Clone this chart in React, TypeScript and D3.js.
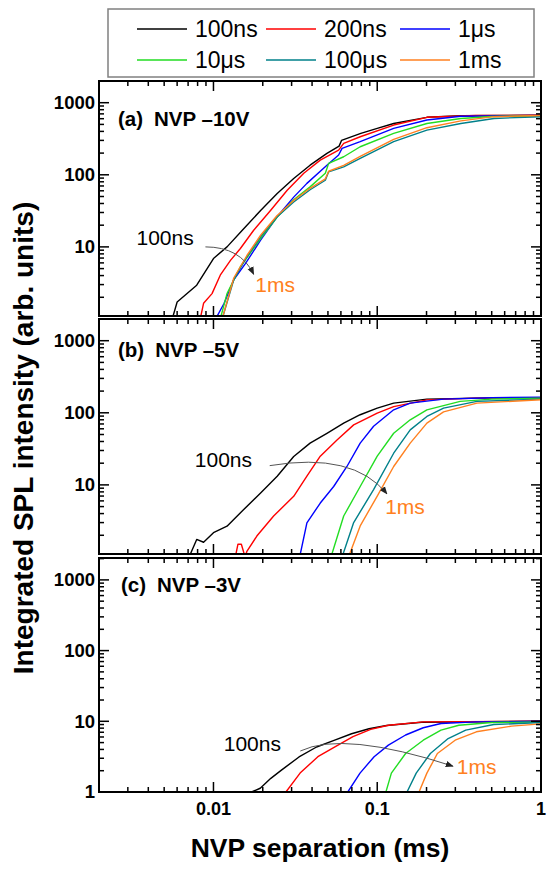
import * as d3 from "d3";

type Pt = [number, number];

const seriesNames = ["100ns", "200ns", "1μs", "10μs", "100μs", "1ms"];
const seriesColors = ["#000000", "#ff0000", "#0000ff", "#22dd22", "#00808a", "#ff8020"];

// (a) NVP -10V
const a100ns: Pt[] = [[0.0056, 1.0], [0.006, 1.72], [0.0079, 2.94], [0.01, 6.9], [0.0121, 10], [0.015, 17], [0.0194, 32], [0.0245, 55], [0.0309, 89], [0.0389, 136], [0.0493, 198], [0.0585, 250], [0.0605, 300], [0.0794, 376], [0.1, 441], [0.126, 515], [0.201, 627], [0.324, 660], [1, 670]];
const a200ns: Pt[] = [[0.0083, 1.0], [0.0087, 1.65], [0.0098, 2.25], [0.011, 4.05], [0.0127, 6.5], [0.0146, 9.5], [0.0176, 17], [0.0223, 32], [0.0282, 61], [0.0356, 105], [0.0449, 160], [0.0581, 220], [0.0624, 273], [0.0787, 337], [0.126, 490], [0.201, 627], [0.4, 665], [1, 670]];
const a1us: Pt[] = [[0.0103, 1.0], [0.0116, 1.64], [0.0133, 3.5], [0.0157, 5.9], [0.0194, 12.4], [0.0244, 26], [0.0309, 49], [0.0372, 76], [0.0493, 136], [0.0581, 188], [0.061, 233], [0.0787, 288], [0.126, 441], [0.201, 575], [0.324, 650], [1, 665]];
const a10us: Pt[] = [[0.011, 1.0], [0.0121, 2.25], [0.0146, 5.3], [0.0194, 13], [0.0245, 26], [0.0309, 45], [0.0389, 68], [0.0482, 105], [0.0505, 144], [0.0624, 178], [0.0787, 245], [0.126, 376], [0.201, 515], [0.324, 605], [0.5, 645], [1, 660]];
const a100us: Pt[] = [[0.0113, 1.0], [0.0133, 3.5], [0.016, 7.3], [0.0194, 13.8], [0.0244, 26], [0.0309, 42], [0.0389, 62], [0.0482, 84], [0.0505, 110], [0.0624, 129], [0.0787, 169], [0.126, 288], [0.201, 417], [0.324, 515], [0.516, 605], [1, 640]];
const a1ms: Pt[] = [[0.0113, 1.0], [0.0133, 3.7], [0.016, 7.6], [0.0194, 14.5], [0.0244, 27], [0.0309, 44], [0.0389, 65], [0.0482, 88], [0.0505, 112], [0.0624, 135], [0.0787, 180], [0.126, 310], [0.201, 450], [0.324, 560], [0.516, 640], [1, 665]];

// (b) NVP -5V
const b100ns: Pt[] = [[0.0071, 1.0], [0.0079, 1.75], [0.0087, 1.6], [0.01, 2.17], [0.0121, 2.67], [0.0153, 4.55], [0.0194, 7.7], [0.0245, 13.2], [0.0309, 24.8], [0.0389, 38], [0.0493, 52], [0.0624, 72], [0.0787, 94], [0.1, 116], [0.126, 136], [0.201, 155], [0.4, 160], [1, 162]];
const b200ns: Pt[] = [[0.0136, 1.0], [0.0141, 1.5], [0.0148, 1.5], [0.0156, 1.0], [0.016, 1.2], [0.0184, 1.95], [0.0233, 3.7], [0.0309, 6.95], [0.0372, 13.2], [0.0449, 25], [0.0568, 42], [0.0718, 68], [0.1, 99], [0.126, 122], [0.201, 151], [0.4, 160], [1, 162]];
const b1us: Pt[] = [[0.0336, 1.0], [0.0372, 2.98], [0.0449, 5.6], [0.0542, 9.5], [0.0653, 18], [0.0787, 38], [0.095, 65], [0.126, 110], [0.159, 136], [0.254, 155], [0.5, 162], [1, 165]];
const b10us: Pt[] = [[0.0522, 1.0], [0.0624, 3.7], [0.0787, 9.5], [0.1, 25], [0.126, 52], [0.159, 80], [0.201, 110], [0.321, 144], [0.5, 155], [1, 160]];
const b100us: Pt[] = [[0.061, 1.0], [0.0718, 3.0], [0.095, 8.6], [0.126, 27.5], [0.159, 58], [0.201, 89], [0.254, 116], [0.406, 144], [1, 155]];
const b1ms: Pt[] = [[0.0668, 1.0], [0.0787, 2.7], [0.1, 7.0], [0.126, 18], [0.159, 38], [0.201, 72], [0.254, 103], [0.406, 136], [1, 152]];

// (c) NVP -3V
const c100ns: Pt[] = [[0.0171, 1.0], [0.0193, 1.13], [0.0224, 1.56], [0.026, 2.04], [0.0333, 3.13], [0.0426, 4.33], [0.0545, 5.37], [0.0697, 6.67], [0.0891, 7.85], [0.114, 8.73], [0.187, 9.7], [1, 10]];
const c200ns: Pt[] = [[0.0277, 1.0], [0.0338, 1.85], [0.0434, 3.16], [0.0555, 4.37], [0.0711, 6.05], [0.0912, 7.7], [0.117, 8.8], [0.191, 9.8], [1, 10]];
const c1us: Pt[] = [[0.0661, 1.0], [0.0785, 1.85], [0.0957, 3.16], [0.117, 4.6], [0.149, 6.4], [0.191, 8.1], [0.245, 9.3], [0.4, 9.8], [1, 10]];
const c10us: Pt[] = [[0.113, 1.0], [0.122, 1.85], [0.149, 3.5], [0.191, 5.4], [0.245, 7.5], [0.315, 8.8], [0.5, 9.6], [1, 9.8]];
const c100us: Pt[] = [[0.152, 1.0], [0.173, 1.85], [0.211, 3.5], [0.271, 5.7], [0.347, 7.5], [0.515, 9.0], [1, 9.6]];
const c1ms: Pt[] = [[0.18, 1.0], [0.201, 1.85], [0.233, 3.5], [0.299, 5.4], [0.403, 7.1], [0.661, 8.55], [1, 9.2]];

// annotation anchors, data units: [100ns label, arrow start, arrow bend, arrow end, 1ms label]
const noteA: Pt[] = [[0.00339, 10.6], [0.00893, 10], [0.0146, 10], [0.0176, 4.18], [0.018, 2.37]];
const noteB: Pt[] = [[0.00769, 17.9], [0.02205, 18.5], [0.0714, 28.8], [0.1146, 7.5], [0.1118, 3.9]];
const noteC: Pt[] = [[0.01155, 3.8], [0.0339, 3.8], [0.062, 7.43], [0.29, 2.32], [0.306, 1.79]];

const xTickValues = [0.01, 0.1, 1];
const xTickLabels = ["0.01", "0.1", "1"];
const yTickValues = [1, 10, 100, 1000];
const yTickLabels = ["1", "10", "100", "1000"];

const FONT = "'Liberation Sans', Arial, Helvetica, sans-serif";
const W = 550;
const H = 871;
const left = 99;
const right = 541;

const x = d3.scaleLog().domain([0.002, 1]).range([left, right]);

const panels = [
  { id: "a", tag: "(a)", name: "NVP –10V", top: 81, bottom: 316, domain: [1.1, 2000], labelX: 118, labelY: 126, series: [a100ns, a200ns, a1us, a10us, a100us, a1ms], note: noteA },
  { id: "b", tag: "(b)", name: "NVP –5V", top: 319, bottom: 554, domain: [1.1, 2000], labelX: 118, labelY: 357, series: [b100ns, b200ns, b1us, b10us, b100us, b1ms], note: noteB },
  { id: "c", tag: "(c)", name: "NVP –3V", top: 558, bottom: 792, domain: [1, 2040], labelX: 121, labelY: 592, series: [c100ns, c200ns, c1us, c10us, c100us, c1ms], note: noteC },
];

const isMajor = (v: number) => Math.abs(Math.log10(v) - Math.round(Math.log10(v))) < 1e-6;

function Panel({ p, last }: { p: (typeof panels)[number]; last: boolean }) {
  const y = d3.scaleLog().domain(p.domain).range([p.bottom, p.top]);
  const line = d3.line<Pt>().x((d) => x(d[0])).y((d) => y(d[1]));
  const xt = x.ticks();
  const yt = y.ticks();

  const [n100, a0, a1, a2, n1ms] = p.note;
  const arrow = d3.path();
  arrow.moveTo(x(a0[0]), y(a0[1]));
  arrow.quadraticCurveTo(x(a1[0]), y(a1[1]), x(a2[0]), y(a2[1]));

  return (
    <g>
      <clipPath id={`clip-${p.id}`}>
        <rect x={left} y={p.top} width={right - left} height={p.bottom - p.top} />
      </clipPath>
      <g clipPath={`url(#clip-${p.id})`}>
        {p.series.map((s, i) => (
          <path key={i} d={line(s) ?? ""} fill="none" stroke={seriesColors[i]} strokeWidth={1.4} strokeLinejoin="round" />
        ))}
      </g>

      {/* ticks on all four sides, pointing inward */}
      {xt.map((v, i) => {
        const len = isMajor(v) ? 10 : 5;
        return (
          <g key={`x${i}`} stroke="#000" strokeWidth={1.5}>
            <line x1={x(v)} x2={x(v)} y1={p.bottom} y2={p.bottom - len} />
            <line x1={x(v)} x2={x(v)} y1={p.top} y2={p.top + len} />
          </g>
        );
      })}
      {yt.map((v, i) => {
        const len = isMajor(v) ? 10 : 5;
        return (
          <g key={`y${i}`} stroke="#000" strokeWidth={1.5}>
            <line x1={left} x2={left + len} y1={y(v)} y2={y(v)} />
            <line x1={right} x2={right - len} y1={y(v)} y2={y(v)} />
          </g>
        );
      })}
      <rect x={left} y={p.top} width={right - left} height={p.bottom - p.top} fill="none" stroke="#000" strokeWidth={2} />

      {yTickValues.map((v, i) =>
        v >= p.domain[0] && v <= p.domain[1] ? (
          <text key={`yl${i}`} x={95} y={y(v)} dy="0.35em" textAnchor="end" fontFamily={FONT} fontWeight="bold" fontSize={18.5}>
            {yTickLabels[i]}
          </text>
        ) : null
      )}
      {last &&
        xTickValues.map((v, i) => (
          <text key={`xl${i}`} x={x(v)} y={815} textAnchor="middle" fontFamily={FONT} fontWeight="bold" fontSize={18}>
            {xTickLabels[i]}
          </text>
        ))}

      <text x={p.labelX} y={p.labelY} fontFamily={FONT} fontWeight="bold" fontSize={20.5}>
        {p.tag}
        <tspan dx={11}>{p.name}</tspan>
      </text>

      <path d={arrow.toString()} fill="none" stroke="#555" strokeWidth={1} markerEnd="url(#arrowhead)" />
      <text x={x(n100[0])} y={y(n100[1])} fontFamily={FONT} fontSize={21} fill="#000">
        100ns
      </text>
      <text x={x(n1ms[0])} y={y(n1ms[1])} fontFamily={FONT} fontSize={21} fill="#ff8020">
        1ms
      </text>
    </g>
  );
}

const legendCols = [137, 266, 400];
const legendRows = [29, 60];

export default function App() {
  return (
    <div style={{ position: "absolute", left: 0, top: 0, background: "#fff" }}>
      <svg width={W} height={H} viewBox={`0 0 ${W} ${H}`} style={{ display: "block" }}>
        <defs>
          <marker id="arrowhead" viewBox="0 0 10 10" refX="9" refY="5" markerWidth="8" markerHeight="8" markerUnits="userSpaceOnUse" orient="auto">
            <path d="M0,1 L10,5 L0,9 z" fill="#222" />
          </marker>
        </defs>
        <rect width={W} height={H} fill="#fff" />

        <rect x={108} y={9} width={426} height={68} fill="#fff" stroke="#808080" strokeWidth={1.5} />
        {seriesNames.map((name, i) => {
          const cx = legendCols[i % 3];
          const cy = legendRows[Math.floor(i / 3)];
          return (
            <g key={name}>
              <line x1={cx} x2={cx + 50} y1={cy} y2={cy} stroke={seriesColors[i]} strokeWidth={1.6} />
              <text x={cx + 58} y={cy + 8} fontFamily={FONT} fontSize={23}>
                {name}
              </text>
            </g>
          );
        })}

        {panels.map((p, i) => (
          <Panel key={p.id} p={p} last={i === panels.length - 1} />
        ))}

        <text
          transform={`translate(33,438) rotate(-90)`}
          textAnchor="middle"
          fontFamily={FONT}
          fontWeight="bold"
          fontSize={28}
        >
          Integrated SPL intensity (arb. units)
        </text>
        <text x={(left + right) / 2} y={857} textAnchor="middle" fontFamily={FONT} fontWeight="bold" fontSize={26.5}>
          NVP separation (ms)
        </text>
      </svg>
    </div>
  );
}
